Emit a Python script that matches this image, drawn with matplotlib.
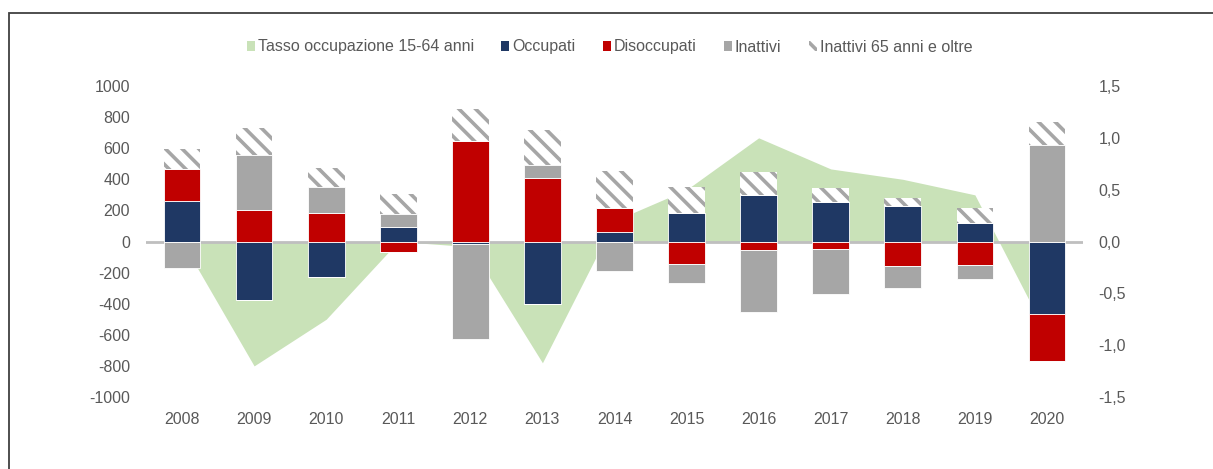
import numpy as np
import matplotlib
matplotlib.use('Agg')
import matplotlib.pyplot as plt
from matplotlib.patches import Rectangle, Patch
from matplotlib.ticker import FuncFormatter

# dati (migliaia / punti percentuali)
anni = ['2008', '2009', '2010', '2011', '2012', '2013', '2014',
        '2015', '2016', '2017', '2018', '2019', '2020']
occupati = [260, -374, -228, 96, -15, -401, 64, 182, 299, 256, 229, 122, -465]
disoccupati = [205, 203, 182, -70, 647, 406, 154, -143, -53, -50, -160, -149, -304]
inattivi = [-170, 353, 167, 82, -615, 86, -188, -124, -402, -287, -139, -92, 620]
inattivi_65 = [128, 177, 125, 128, 208, 224, 235, 171, 150, 86, 53, 92, 149]
tasso = [0.0, -1.2, -0.75, 0.0, -0.05, -1.17, 0.2, 0.5, 1.0, 0.7, 0.6, 0.45, -0.9]

# colori
C_OCC = '#1f3864'
C_DIS = '#c00000'
C_INA = '#a6a6a6'
C_TAS = '#c9e2b8'
C_TXT = '#595959'

plt.rcParams['font.family'] = ['Liberation Sans', 'DejaVu Sans']
plt.rcParams['font.size'] = 11.5
plt.rcParams['hatch.linewidth'] = 2.6
plt.rcParams['axes.unicode_minus'] = False

W, H = 1213, 469
fig = plt.figure(figsize=(W / 100, H / 100), dpi=100)
ax2 = fig.add_axes([146 / W, 1 - 397 / H, (1083 - 146) / W, (397 - 86) / H])
ax = fig.add_axes(ax2.get_position(), sharex=ax2)
ax.set_zorder(ax2.get_zorder() + 1)
ax.patch.set_visible(False)

x = np.arange(len(anni))

# area tasso di occupazione (asse destro)
ax2.fill_between(x, tasso, 0, color=C_TAS, linewidth=0)
ax2.yaxis.tick_right()
ax2.set_ylim(-1.5, 1.5)
ax2.set_yticks(np.arange(-1.5, 1.51, 0.5))
ax2.yaxis.set_major_formatter(FuncFormatter(lambda v, p: f'{v:.1f}'.replace('.', ',').replace('-0,0', '0,0')))

# barre impilate: positivi e negativi separati
serie = [occupati, disoccupati, inattivi]
colori = [C_OCC, C_DIS, C_INA]
pos = np.zeros(len(anni))
neg = np.zeros(len(anni))
ax.axhline(0, color='#bfbfbf', lw=2, zorder=1)
w = 0.51
for vals, c in zip(serie, colori):
    v = np.array(vals, dtype=float)
    vp = np.where(v > 0, v, 0)
    vn = np.where(v < 0, v, 0)
    ax.bar(x, vp, w, bottom=pos, color=c, edgecolor='white', linewidth=0.6, zorder=2)
    ax.bar(x, vn, w, bottom=neg, color=c, edgecolor='white', linewidth=0.6, zorder=2)
    pos += vp
    neg += vn
ax.bar(x, inattivi_65, w, bottom=pos, facecolor='white', edgecolor='#a6a6a6',
       hatch='\\\\', linewidth=0, zorder=2)

ax.set_ylim(-1000, 1000)
ax.set_yticks(np.arange(-1000, 1001, 200))
ax.set_xlim(-0.5, 12.5)
ax.set_xticks(x)
ax.set_xticklabels(anni)

for a in (ax, ax2):
    for s in a.spines.values():
        s.set_visible(False)
    a.tick_params(length=0, colors=C_TXT, labelsize=11.5)
ax.tick_params(axis='y', pad=11.5)
ax.tick_params(axis='x', pad=11)
ax2.tick_params(axis='y', pad=11)
ax2.tick_params(axis='x', labelbottom=False)

# legenda
handles = [Patch(facecolor=C_TAS), Patch(facecolor=C_OCC), Patch(facecolor=C_DIS),
           Patch(facecolor=C_INA),
           Patch(facecolor='white', edgecolor='#a6a6a6', hatch='\\\\', linewidth=0)]
labels = ['Tasso occupazione 15-64 anni', 'Occupati', 'Disoccupati', 'Inattivi',
          'Inattivi 65 anni e oltre']
leg = fig.legend(handles, labels, loc='center', bbox_to_anchor=(0.5025, 1 - 47 / H),
                 ncol=5, frameon=False, handlelength=0.5, handleheight=0.55,
                 handletextpad=0.2, columnspacing=1.7, fontsize=11.5)
for t in leg.get_texts():
    t.set_color(C_TXT)

# cornice
fig.patches.append(Rectangle((9 / W, -0.1), 1.2, 1 - 13 / H + 0.1, transform=fig.transFigure,
                             fill=False, edgecolor='#404040', linewidth=1.3))

fig.savefig('out.png', dpi=100)
